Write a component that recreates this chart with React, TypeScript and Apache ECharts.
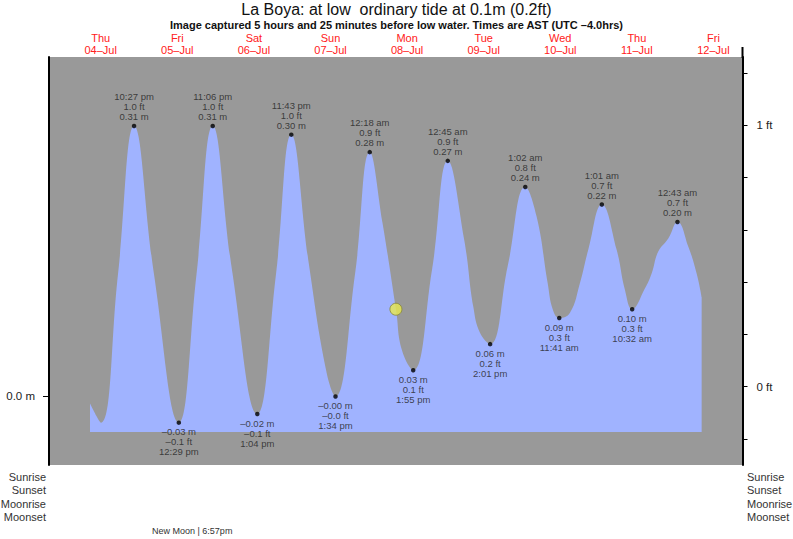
import React, { useEffect, useRef } from "react";
import * as echarts from "echarts";

// x values are hours since 04-Jul 00:00 AST; y values are metres
const curveHours = [
  8.65, 12.09, 17.42, 22.45, 28.7, 36.48, 42.02, 47.1, 53.14, 61.07, 66.92, 71.72,
  77.26, 82.81, 85.57, 91.68, 96.3, 100.29, 104.52, 106.4, 109.92, 115.8, 120.75,
  125.92, 128.74, 130.84, 134.02, 139.61, 145.03, 148.6, 152.05, 153.71, 155.68,
  159.04, 162.17, 164.77, 169.02, 173.67, 176.27, 178.53, 182.54, 184.63, 186.7,
  189.84, 192.72, 196.1, 198.73, 200.3,
];
const curveMeters = [
  -0.008, -0.03, 0.14, 0.31, 0.14, -0.03, 0.14, 0.31, 0.145, -0.02, 0.14, 0.3,
  0.151, 0.027, 0.0, 0.14, 0.28, 0.199, 0.1, 0.053, 0.03, 0.145, 0.27,
  0.179, 0.103, 0.073, 0.06, 0.151, 0.24, 0.206, 0.13, 0.099, 0.09,
  0.096, 0.13, 0.168, 0.22, 0.168, 0.122, 0.1, 0.124, 0.141, 0.166,
  0.181, 0.2, 0.172, 0.141, 0.114,
];

const highHours = [22.45, 47.1, 71.72, 96.3, 120.75, 145.03, 169.02, 192.72];
const highMeters = [0.31, 0.31, 0.3, 0.28, 0.27, 0.24, 0.22, 0.2];
const highMeterText = ["0.31 m", "0.31 m", "0.30 m", "0.28 m", "0.27 m", "0.24 m", "0.22 m", "0.20 m"];
const highFeetText = ["1.0 ft", "1.0 ft", "1.0 ft", "0.9 ft", "0.9 ft", "0.8 ft", "0.7 ft", "0.7 ft"];
const highTimeText = ["10:27 pm", "11:06 pm", "11:43 pm", "12:18 am", "12:45 am", "1:02 am", "1:01 am", "12:43 am"];

const lowHours = [36.48, 61.07, 85.57, 109.92, 134.02, 155.68, 178.53];
const lowMeters = [-0.03, -0.02, 0.0, 0.03, 0.06, 0.09, 0.1];
const lowMeterText = ["–0.03 m", "–0.02 m", "–0.00 m", "0.03 m", "0.06 m", "0.09 m", "0.10 m"];
const lowFeetText = ["–0.1 ft", "–0.1 ft", "–0.0 ft", "0.1 ft", "0.2 ft", "0.3 ft", "0.3 ft"];
const lowTimeText = ["12:29 pm", "1:04 pm", "1:34 pm", "1:55 pm", "2:01 pm", "11:41 am", "10:32 am"];

const nowHour = 104.5;
const nowMeters = 0.1;

const dayNoonHours = [12, 36, 60, 84, 108, 132, 156, 180, 204];
const dayNames = ["Thu", "Fri", "Sat", "Sun", "Mon", "Tue", "Wed", "Thu", "Fri"];
const dayDates = ["04–Jul", "05–Jul", "06–Jul", "07–Jul", "08–Jul", "09–Jul", "10–Jul", "11–Jul", "12–Jul"];

const feetTicks = [-0.2, 0, 0.2, 0.4, 0.6, 0.8, 1.0, 1.2];
const feetLabels = [0, 1];
const meterLabels = [0];

const sideLabels = ["Sunrise", "Sunset", "Moonrise", "Moonset"];
const titleText = "La Boya: at low  ordinary tide at 0.1m (0.2ft)";
const subText = "Image captured 5 hours and 25 minutes before low water. Times are AST (UTC –4.0hrs)";
const moonText = "New Moon | 6:57pm";

const FONT = "'Liberation Sans', Arial, Helvetica, sans-serif";

export default function App() {
  const ref = useRef<HTMLDivElement>(null);
  useEffect(() => {
    if (!ref.current) return;
    const chart = echarts.init(ref.current, undefined, { renderer: "svg" });
    const sideY = [476.5, 490, 503.5, 517];
    const graphics: any[] = [];
    sideLabels.forEach((t, i) => {
      graphics.push({
        type: "text",
        x: 46,
        y: sideY[i],
        style: { text: t, fill: "#333", font: `11px ${FONT}`, align: "right", verticalAlign: "middle" },
      });
      graphics.push({
        type: "text",
        x: 747,
        y: sideY[i],
        style: { text: t, fill: "#333", font: `11px ${FONT}`, align: "left", verticalAlign: "middle" },
      });
    });
    graphics.push({
      type: "text",
      x: 152,
      y: 530.5,
      style: { text: moonText, fill: "#333", font: `9px ${FONT}`, align: "left", verticalAlign: "middle" },
    });
    graphics.push({
      type: "line",
      shape: { x1: 742.5, y1: 47, x2: 742.5, y2: 58 },
      style: { stroke: "#000", lineWidth: 2 },
    });

    const labelStyle = {
      show: true,
      fontSize: 9.5,
      lineHeight: 10,
      color: "#222",
      fontFamily: FONT,
    };

    chart.setOption({
      animation: false,
      backgroundColor: "#fff",
      textStyle: { fontFamily: FONT },
      title: [
        {
          text: titleText,
          left: "center",
          top: 1,
          padding: 0,
          textStyle: { fontSize: 16, fontWeight: "normal", color: "#111", fontFamily: FONT },
        },
        {
          text: subText,
          left: "center",
          top: 19,
          padding: 0,
          textStyle: { fontSize: 11, fontWeight: "bold", color: "#111", fontFamily: FONT },
        },
      ],
      grid: {
        left: 49,
        right: 50.5,
        top: 57,
        bottom: 74,
        show: true,
        backgroundColor: "#999999",
        borderWidth: 0,
      },
      xAxis: {
        type: "value",
        position: "top",
        min: -4.2,
        max: 213.1,
        axisLine: { show: false, onZero: false },
        axisTick: { show: false },
        splitLine: { show: false },
        axisLabel: {
          customValues: dayNoonHours,
          formatter: (v: number) => {
            const i = dayNoonHours.indexOf(Math.round(v));
            return i >= 0 ? `${dayNames[i]}\n${dayDates[i]}` : "";
          },
          color: "#ff2020",
          fontSize: 11,
          lineHeight: 12,
          margin: 1,
          fontFamily: FONT,
        },
      },
      yAxis: [
        {
          type: "value",
          position: "left",
          min: -0.0785,
          max: 0.389,
          splitLine: { show: false },
          axisLine: { show: true, onZero: false, lineStyle: { color: "#000", width: 2 } },
          axisTick: { show: true, customValues: meterLabels, length: 6, lineStyle: { color: "#000" } },
          axisLabel: {
            customValues: meterLabels,
            formatter: (v: number) => `${v.toFixed(1)} m`,
            color: "#222",
            fontSize: 11.5,
            margin: 14,
            fontFamily: FONT,
          },
        },
        {
          type: "value",
          position: "right",
          min: -0.2995,
          max: 1.2613,
          splitLine: { show: false },
          axisLine: { show: true, onZero: false, lineStyle: { color: "#000", width: 2 } },
          axisTick: { show: true, customValues: feetTicks, length: 5, lineStyle: { color: "#000" } },
          axisLabel: {
            customValues: feetLabels,
            formatter: (v: number) => `${Math.round(v)} ft`,
            color: "#222",
            fontSize: 11.5,
            margin: 14,
            fontFamily: FONT,
          },
        },
      ],
      series: [
        {
          type: "line",
          data: curveHours.map((h, i) => [h, curveMeters[i]]),
          smooth: 0.45,
          showSymbol: false,
          symbol: "none",
          lineStyle: { width: 0 },
          areaStyle: { color: "#a0b3ff", opacity: 1, origin: -0.0407 },
          z: 2,
          silent: true,
        },
        {
          type: "scatter",
          data: highHours.map((h, i) => [h, highMeters[i]]),
          symbolSize: 4.5,
          itemStyle: { color: "#000" },
          label: {
            ...labelStyle,
            position: "top",
            distance: 2,
            formatter: (p: any) =>
              `${highTimeText[p.dataIndex]}\n${highFeetText[p.dataIndex]}\n${highMeterText[p.dataIndex]}`,
          },
          z: 3,
        },
        {
          type: "scatter",
          data: lowHours.map((h, i) => [h, lowMeters[i]]),
          symbolSize: 4.5,
          itemStyle: { color: "#000" },
          label: {
            ...labelStyle,
            position: "bottom",
            distance: 2,
            formatter: (p: any) =>
              `${lowMeterText[p.dataIndex]}\n${lowFeetText[p.dataIndex]}\n${lowTimeText[p.dataIndex]}`,
          },
          z: 3,
        },
        {
          type: "scatter",
          data: [[nowHour, nowMeters]],
          symbolSize: 12,
          itemStyle: { color: "#e9e94e", borderColor: "#86863a", borderWidth: 1 },
          z: 4,
        },
      ],
      graphic: graphics,
    });
    return () => chart.dispose();
  }, []);
  return (
    <div
      ref={ref}
      style={{ position: "fixed", left: 0, top: 0, width: 793, height: 539, background: "#fff" }}
    />
  );
}
